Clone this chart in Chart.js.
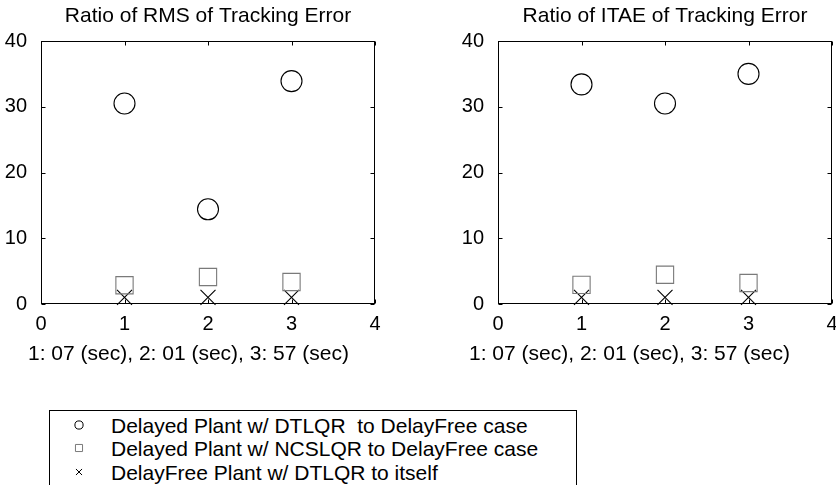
<!DOCTYPE html>
<html>
<head>
<meta charset="utf-8">
<script src="https://cdn.jsdelivr.net/npm/chart.js@4.4.1/dist/chart.umd.min.js"></script>
<style>
  html, body { margin:0; padding:0; background:#fff; width:836px; height:485px; overflow:hidden; position:relative;
               font-family:"Liberation Sans", Arial, Helvetica, sans-serif; color:#000; }
  .plot   { position:absolute; top:0; }
  .xlab   { position:absolute; top:341px; font-size:21px; line-height:24px; white-space:pre; }
  #legend { position:absolute; left:49px; top:410px; width:528px; height:90px; border:1px solid #000; box-sizing:border-box; }
  .leg-row { position:absolute; left:0; height:23px; line-height:23px; font-size:21px; white-space:pre; }
  .leg-row .txt { position:absolute; left:61px; top:0; }
  .leg-row .sym { position:absolute; left:21px; top:3px; width:16px; height:16px; }
</style>
</head>
<body>
<div class="plot" style="left:0"><canvas id="chartRms" width="418" height="370"></canvas></div>
<div class="plot" style="left:418px"><canvas id="chartItae" width="440" height="370"></canvas></div>
<div class="xlab" id="xlabRms"  style="left:28px"></div>
<div class="xlab" id="xlabItae" style="left:469px"></div>
<div id="legend"></div>

<script>
// ── dados ──────────────────────────────────────────────────────────────────
const X_TICKS = [0, 1, 2, 3, 4];
const Y_TICKS = [0, 10, 20, 30, 40];
const RUNS    = [1, 2, 3];
const RUN_LABEL = '1: 07 (sec), 2: 01 (sec), 3: 57 (sec)';

const TITLES = ['Ratio of RMS of Tracking Error', 'Ratio of ITAE of Tracking Error'];
const SERIES_NAMES = [
  'Delayed Plant w/ DTLQR  to DelayFree case',
  'Delayed Plant w/ NCSLQR to DelayFree case',
  'DelayFree Plant w/ DTLQR to itself',
];

const RMS_DTLQR   = [30.5, 14.4, 33.9];
const RMS_NCSLQR  = [2.85, 4.1, 3.35];
const RMS_FREE    = [1.0, 1.0, 1.0];

const ITAE_DTLQR  = [33.4, 30.5, 35.0];
const ITAE_NCSLQR = [2.9, 4.45, 3.2];
const ITAE_FREE   = [1.0, 1.0, 1.0];

// ── estilos ────────────────────────────────────────────────────────────────
const FONT = '"Liberation Sans", Arial, Helvetica, sans-serif';
const STYLES = [
  { pointStyle:'circle',   radius:10.5, legR:4.1, color:'#000' },
  { pointStyle:'rect',     radius:12.2, legR:5.0, color:'#7a7a7a' },
  { pointStyle:'crossRot', radius:10.6, legR:4.3, color:'#000' },
];
const LEG_ROW_TOP = [2.5, 26, 49.5];

const pts = vals => RUNS.map((r, i) => ({ x:r, y:vals[i] }));

// moldura + ticks internos (estilo matlab)
const framePlugin = {
  id:'frame',
  afterDraw(chart) {
    const { ctx, chartArea:a, scales:{ x, y } } = chart;
    const L = Math.round(a.left) + 0.5, R = Math.round(a.right) - 0.5;
    const T = Math.round(a.top) + 0.5,  B = Math.round(a.bottom) - 0.5;
    ctx.save();
    ctx.strokeStyle = '#000'; ctx.lineWidth = 1;
    ctx.strokeRect(L, T, R - L, B - T);
    ctx.beginPath();
    X_TICKS.forEach(v => {
      const px = Math.round(x.getPixelForValue(v)) + 0.5;
      ctx.moveTo(px, B); ctx.lineTo(px, B - 4);
      ctx.moveTo(px, T); ctx.lineTo(px, T + 4);
    });
    Y_TICKS.forEach(v => {
      const py = Math.round(y.getPixelForValue(v)) + 0.5;
      ctx.moveTo(L, py); ctx.lineTo(L + 4, py);
      ctx.moveTo(R, py); ctx.lineTo(R - 4, py);
    });
    ctx.stroke();
    ctx.restore();
  },
};

function makeChart(id, title, series, leftW, rightPad) {
  const datasets = series.map((vals, i) => ({
    label: SERIES_NAMES[i],
    data: pts(vals),
    pointStyle: STYLES[i].pointStyle,
    pointRadius: STYLES[i].radius,
    pointHoverRadius: STYLES[i].radius,
    pointBorderColor: STYLES[i].color,
    pointBackgroundColor: 'rgba(0,0,0,0)',
    pointBorderWidth: 1.1,
    showLine: false,
    clip: false,
  }));

  return new Chart(document.getElementById(id), {
    type: 'scatter',
    data: { datasets },
    options: {
      responsive:false, animation:false,
      layout: { padding:{ left:0, right:rightPad, top:0, bottom:0 } },
      plugins: {
        legend:{ display:false },
        tooltip:{ enabled:false },
        title:{ display:true, fullSize:false, text:title, color:'#000',
                font:{ family:FONT, size:21, weight:'normal', lineHeight:1.2 },
                padding:{ top:4, bottom:11.8 } },
      },
      scales: {
        x: {
          type:'linear', min:0, max:4,
          afterBuildTicks: s => { s.ticks = X_TICKS.map(v => ({ value:v })); },
          afterFit: s => { s.height = 66; },
          grid:{ display:false }, border:{ display:false },
          ticks:{ color:'#000', padding:0, maxRotation:0, font:{ family:FONT, size:20 } },
        },
        y: {
          type:'linear', min:0, max:40,
          afterBuildTicks: s => { s.ticks = Y_TICKS.map(v => ({ value:v })); },
          afterFit: s => { s.width = leftW; },
          grid:{ display:false }, border:{ display:false },
          ticks:{ color:'#000', padding:6, font:{ family:FONT, size:20 } },
        },
      },
    },
    plugins:[ framePlugin ],
  });
}

makeChart('chartRms',  TITLES[0], [RMS_DTLQR,  RMS_NCSLQR,  RMS_FREE],  41, 43);
makeChart('chartItae', TITLES[1], [ITAE_DTLQR, ITAE_NCSLQR, ITAE_FREE], 80, 26);

document.getElementById('xlabRms').textContent  = RUN_LABEL;
document.getElementById('xlabItae').textContent = RUN_LABEL;

// legenda em HTML, símbolos desenhados com o mesmo pointStyle do Chart.js
const legEl = document.getElementById('legend');
SERIES_NAMES.forEach((name, i) => {
  const row = document.createElement('div');
  row.className = 'leg-row';
  row.style.top = LEG_ROW_TOP[i] + 'px';
  const cv = document.createElement('canvas');
  cv.className = 'sym'; cv.width = 16; cv.height = 16;
  const ctx = cv.getContext('2d');
  ctx.strokeStyle = STYLES[i].color; ctx.fillStyle = 'rgba(0,0,0,0)'; ctx.lineWidth = 1;
  Chart.helpers.drawPoint(ctx, { pointStyle:STYLES[i].pointStyle, radius:STYLES[i].legR, borderWidth:1 }, 8, 8);
  const txt = document.createElement('span');
  txt.className = 'txt'; txt.textContent = name;
  row.appendChild(cv); row.appendChild(txt);
  legEl.appendChild(row);
});
</script>
</body>
</html>
